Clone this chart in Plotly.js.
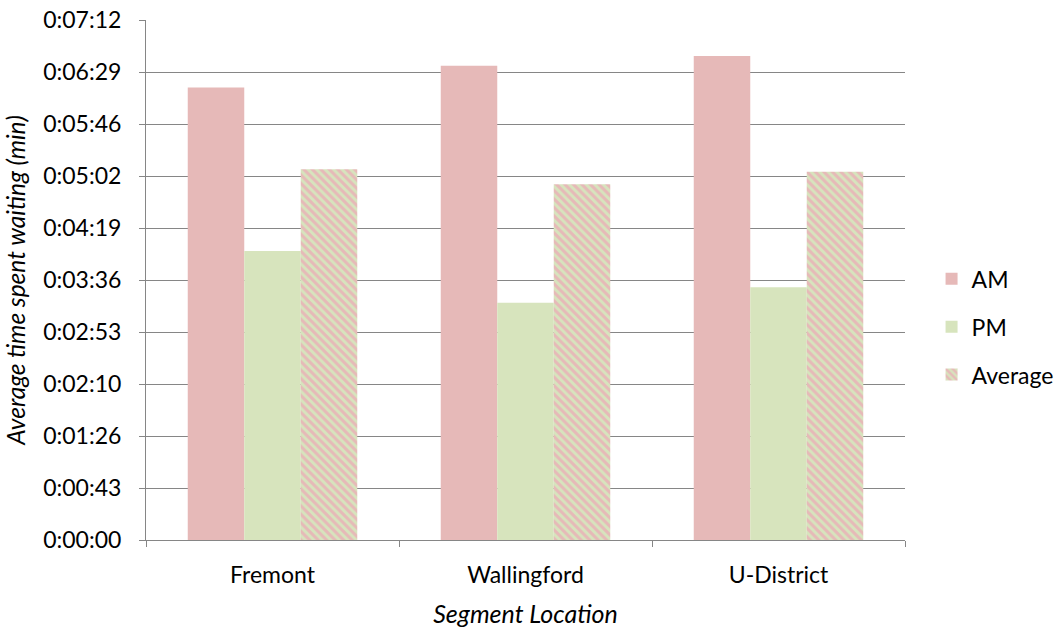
<!DOCTYPE html>
<html>
<head>
<meta charset="utf-8">
<script src="https://cdn.plot.ly/plotly-3.0.1.min.js"></script>
<style>html,body{margin:0;padding:0;background:#fff;}#chart{width:1059px;height:628px;}</style>
</head>
<body>
<div id="chart"></div>
<script>
// Segment locations
const categories = ["Fremont", "Wallingford", "U-District"];
// Average waiting time in seconds
const amValues = [376, 394, 402];
const pmValues = [240, 197, 210];
const avgValues = [308, 295.5, 306];
// Y-axis ticks (seconds) and their labels (h:mm:ss)
const yTickVals = [0, 43.2, 86.4, 129.6, 172.8, 216, 259.2, 302.4, 345.6, 388.8, 432];
const yTickText = ["0:00:00", "0:00:43", "0:01:26", "0:02:10", "0:02:53", "0:03:36", "0:04:19", "0:05:02", "0:05:46", "0:06:29", "0:07:12"];

const FONT = "Lato, 'Open Sans', sans-serif";
const pink = "#E6B9B8";
const green = "#D7E4BD";

const traces = [
  {type: "bar", name: "AM", x: categories, y: amValues, legendgroup: "a",
   marker: {color: pink, line: {width: 0}}},
  {type: "bar", name: "PM", x: categories, y: pmValues, legendgroup: "b",
   marker: {color: green, line: {width: 0}}},
  {type: "bar", name: "Average", x: categories, y: avgValues, legendgroup: "c",
   marker: {color: green, line: {width: 0},
            pattern: {shape: "\\", fgcolor: pink, bgcolor: green, size: 6, solidity: 0.5, fillmode: "replace"}}}
];

const layout = {
  width: 1059, height: 628,
  paper_bgcolor: "#ffffff", plot_bgcolor: "#ffffff",
  margin: {l: 146, r: 154, t: 20, b: 88, autoexpand: false},
  font: {family: FONT, size: 23, color: "#000000"},
  barmode: "group", bargap: 0.33, bargroupgap: 0,
  showlegend: true,
  legend: {x: 1.035, xanchor: "left", y: 0.41, yanchor: "middle",
           traceorder: "grouped", tracegroupgap: 15,
           font: {family: FONT, size: 23, color: "#000"}, itemwidth: 30},
  xaxis: {
    type: "category",
    showline: true, linecolor: "#868686", linewidth: 1,
    ticks: "outside", tickson: "boundaries", ticklen: 6, tickcolor: "#868686",
    showgrid: false, zeroline: false,
    tickfont: {family: FONT, size: 23},
    ticklabelstandoff: 14,
    automargin: false,
    title: {text: "<i>Segment Location</i>", font: {family: FONT, size: 25}, standoff: 27}
  },
  yaxis: {
    range: [0, 432],
    tickmode: "array", tickvals: yTickVals, ticktext: yTickText,
    showline: true, linecolor: "#868686", linewidth: 1,
    ticks: "outside", ticklen: 6, tickcolor: "#868686",
    showgrid: true, gridcolor: "#868686", gridwidth: 1,
    zeroline: false,
    tickfont: {family: FONT, size: 23},
    ticklabelstandoff: 13,
    automargin: false,
    title: {text: "<i>Average time spent waiting (min)</i>", font: {family: FONT, size: 24.5}, standoff: 10}
  }
};

Plotly.newPlot("chart", traces, layout, {staticPlot: true, displayModeBar: false});
</script>
</body>
</html>
